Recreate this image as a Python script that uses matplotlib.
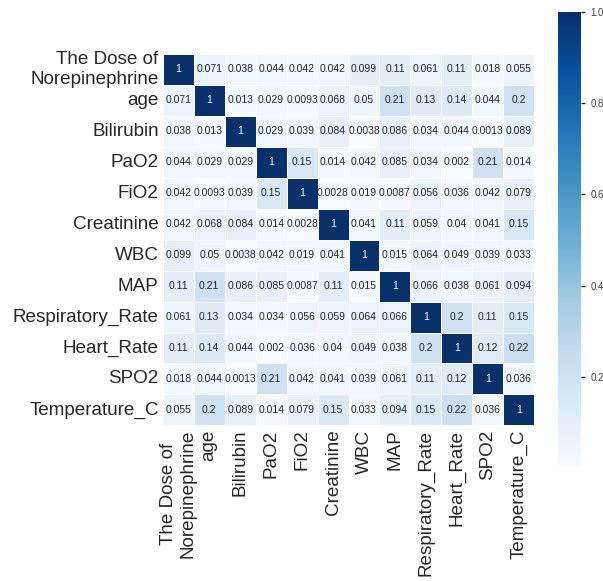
import numpy as np
import pandas as pd
import matplotlib
matplotlib.use('Agg')
import matplotlib.pyplot as plt
import seaborn as sns

labels = ['The Dose of\nNorepinephrine', 'age', 'Bilirubin', 'PaO2', 'FiO2', 'Creatinine',
          'WBC', 'MAP', 'Respiratory_Rate', 'Heart_Rate', 'SPO2', 'Temperature_C']

# absolute correlation values, row by row
dose = [1, 0.071, 0.038, 0.044, 0.042, 0.042, 0.099, 0.11, 0.061, 0.11, 0.018, 0.055]
age = [0.071, 1, 0.013, 0.029, 0.0093, 0.068, 0.05, 0.21, 0.13, 0.14, 0.044, 0.2]
bilirubin = [0.038, 0.013, 1, 0.029, 0.039, 0.084, 0.0038, 0.086, 0.034, 0.044, 0.0013, 0.089]
pao2 = [0.044, 0.029, 0.029, 1, 0.15, 0.014, 0.042, 0.085, 0.034, 0.002, 0.21, 0.014]
fio2 = [0.042, 0.0093, 0.039, 0.15, 1, 0.0028, 0.019, 0.0087, 0.056, 0.036, 0.042, 0.079]
creatinine = [0.042, 0.068, 0.084, 0.014, 0.0028, 1, 0.041, 0.11, 0.059, 0.04, 0.041, 0.15]
wbc = [0.099, 0.05, 0.0038, 0.042, 0.019, 0.041, 1, 0.015, 0.064, 0.049, 0.039, 0.033]
map_ = [0.11, 0.21, 0.086, 0.085, 0.0087, 0.11, 0.015, 1, 0.066, 0.038, 0.061, 0.094]
resp_rate = [0.061, 0.13, 0.034, 0.034, 0.056, 0.059, 0.064, 0.066, 1, 0.2, 0.11, 0.15]
heart_rate = [0.11, 0.14, 0.044, 0.002, 0.036, 0.04, 0.049, 0.038, 0.2, 1, 0.12, 0.22]
spo2 = [0.018, 0.044, 0.0013, 0.21, 0.042, 0.041, 0.039, 0.061, 0.11, 0.12, 1, 0.036]
temp = [0.055, 0.2, 0.089, 0.014, 0.079, 0.15, 0.033, 0.094, 0.15, 0.22, 0.036, 1]

corr = pd.DataFrame([dose, age, bilirubin, pao2, fio2, creatinine, wbc, map_,
                     resp_rate, heart_rate, spo2, temp], index=labels, columns=labels)

sns.set_style('white')
plt.rcParams['font.family'] = ['Liberation Sans', 'DejaVu Sans']

fig = plt.figure(figsize=(6.03, 5.81), dpi=100)
ax = fig.add_axes([0.270, 0.196, 0.616, 0.783])
cax = fig.add_axes([0.925, 0.196, 0.039, 0.783])

sns.heatmap(corr, ax=ax, cbar_ax=cax, cmap='Blues', square=True, annot=True,
            annot_kws={'size': 7.5}, linewidths=0.5, linecolor='white')

ax.tick_params(axis='both', length=0, labelsize=13.6, pad=3)
ax.set_yticklabels(labels, rotation=0, ha='right', va='center')
ax.set_xticklabels(labels, rotation=90)
cax.tick_params(labelsize=7, length=3, width=1, color='#262626', labelcolor='#404040')

plt.savefig('out.png', dpi=100)
